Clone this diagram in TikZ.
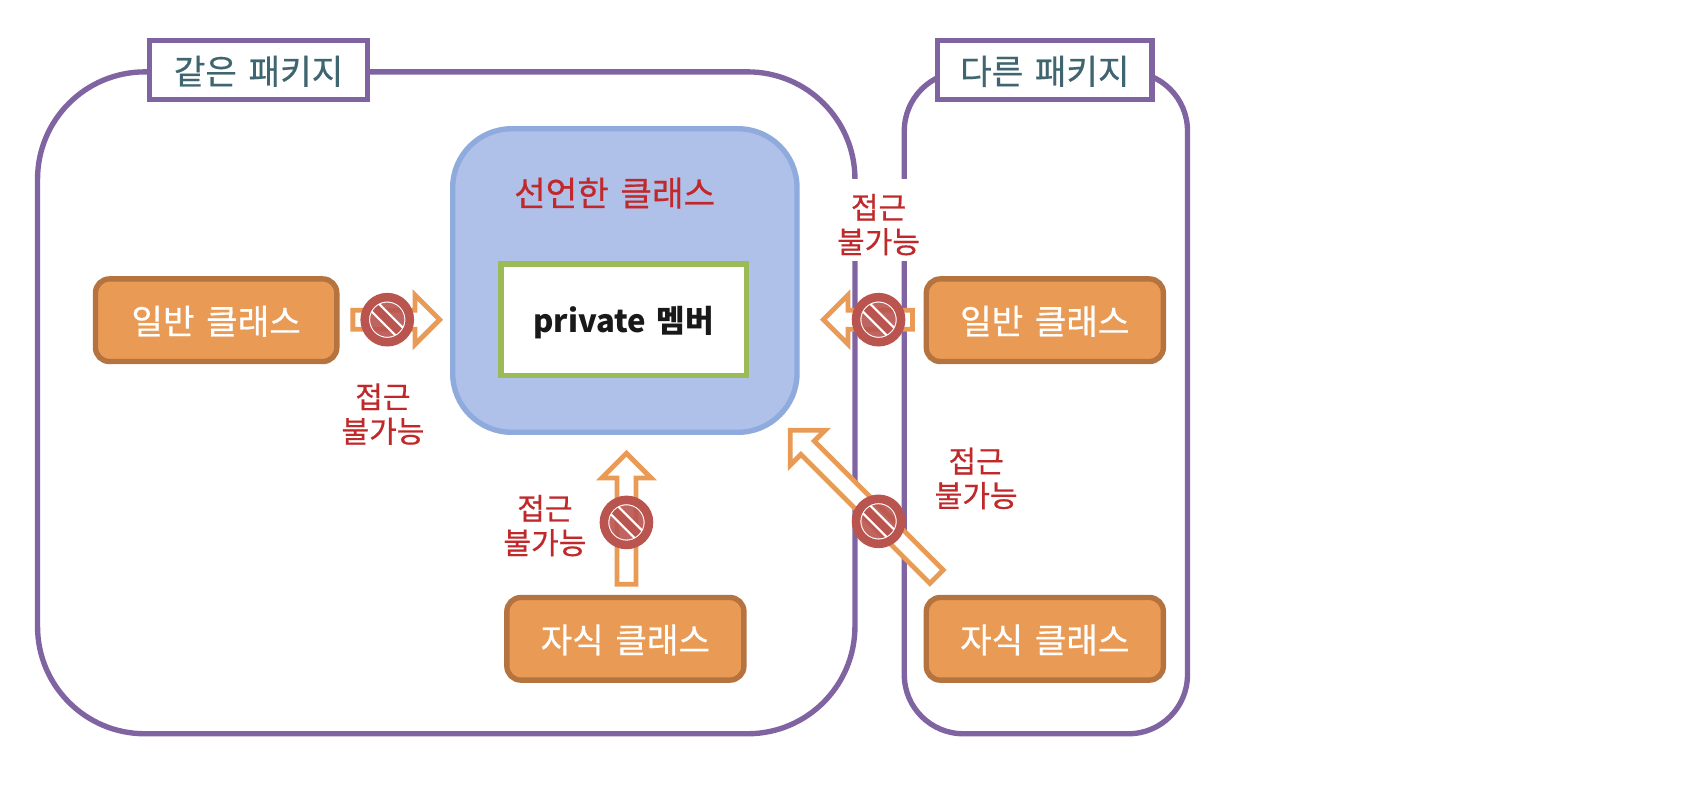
\documentclass[tikz,border=0pt]{standalone}
\usepackage{fontspec}
\setmainfont[WordSpace=1.5,FakeBold=0.5,BoldFeatures={FakeBold=0}]{Noto Sans CJK KR}
\usetikzlibrary{shapes.arrows}
\definecolor{pkgline}{HTML}{8064A2}
\definecolor{pkgtext}{HTML}{3F6670}
\definecolor{blockfill}{HTML}{AFC1E9}
\definecolor{blockline}{HTML}{8FAADC}
\definecolor{memberline}{HTML}{9BBB59}
\definecolor{classfill}{HTML}{E99A55}
\definecolor{classline}{HTML}{B57340}
\definecolor{denytext}{HTML}{C0282A}
\definecolor{denyfill}{HTML}{B9544F}
\tikzset{
    pkgbox/.style={draw=pkgline,line width=5pt,fill=white},
    pkglabel/.style={draw=pkgline,line width=5pt,fill=white,text=pkgtext,minimum height=55pt,text height=26pt,text depth=0pt,font=\fontsize{32}{36}\selectfont},
    classbox/.style={draw=classline,fill=classfill,line width=5pt,rounded corners=13pt,minimum height=77pt,text height=26pt,text depth=0pt,text=white,font=\fontsize{32}{36}\selectfont},
    blockarrow/.style={draw=classfill,fill=white,line width=4.5pt,single arrow,single arrow tip angle=90,single arrow head extend=3.6pt,minimum width=46pt,inner sep=0pt},
    denylabel/.style={text=denytext,align=center,font=\fontsize{28}{32}\selectfont},
    nosign/.style={circle,draw=denyfill,line width=8pt,fill=denyfill,fill opacity=.9,minimum size=42pt,inner sep=0pt,
        path picture={
            \begin{scope}[shift={(path picture bounding box.center)}]
            \draw[denyfill,line width=10pt] (-11,-11) -- (11,11);
            \draw[white,line width=2pt] (0,0) circle (17pt);
            \draw[white,line width=2pt] (-8,-15) -- (15,8);
            \draw[white,line width=2pt] (-15,-8) -- (8,15);
            \end{scope}
        }},
}
\begin{document}
\begin{tikzpicture}[x=1pt,y=-1pt]
\useasboundingbox (0,0) rectangle (1568,740);
% packages
\node[pkgbox,rounded corners=100pt,minimum width=762pt,minimum height=617pt] (samepkg) at (416,375.5) {};
\node[pkgbox,rounded corners=55pt,minimum width=264pt,minimum height=617pt] (otherpkg) at (975,375.5) {};
\node[pkglabel,minimum width=203pt] (samelabel) at (241,65.5) {같은 패키지};
\node[pkglabel,minimum width=200pt] (otherlabel) at (974,65.5) {다른 패키지};
% declaring class
\node[draw=blockline,fill=blockfill,line width=5pt,rounded corners=55pt,minimum width=321pt,minimum height=283pt] (declared) at (582.5,261.5) {};
\node[text=denytext,font=\fontsize{32}{36}\selectfont] (declaredname) at (573,180) {선언한 클래스};
\node[draw=memberline,fill=white,line width=5pt,minimum width=229pt,minimum height=104pt,text height=24pt,text depth=0pt,font=\fontsize{29}{34}\selectfont\bfseries,text=black!90] (member) at (581.5,298) {private 멤버};
% classes
\node[classbox,minimum width=225pt] (samenormal) at (201.5,298.5) {일반 클래스};
\node[classbox,minimum width=221pt] (samechild) at (583,595.5) {자식 클래스};
\node[classbox,minimum width=221pt] (othernormal) at (974,298.5) {일반 클래스};
\node[classbox,minimum width=221pt] (otherchild) at (974,595.5) {자식 클래스};
% denied arrows
\node[blockarrow,minimum height=81pt] (arrowa) at (365,298) {};
\node[blockarrow,minimum height=83pt,shape border rotate=180] (arrowb) at (813.5,298) {};
\node[blockarrow,minimum height=122pt,shape border rotate=90] (arrowc) at (584,488) {};
\node[blockarrow,minimum height=193pt,rotate=135] (arrowd) at (808,472.5) {};
\node[nosign] (denya) at (361,298) {};
\node[nosign] (denyb) at (819,298) {};
\node[nosign] (denyc) at (584,487) {};
\node[nosign] (denyd) at (819,486) {};
% labels
\node[denylabel] (labela) at (357,386) {접근\\불가능};
\node[denylabel] (labelb) at (508,490) {접근\\불가능};
\node[denylabel,fill=white,inner sep=2pt,minimum width=82pt,minimum height=76pt] (labelc) at (819,205) {\rule{0pt}{32pt}접근\\불가능};
\node[denylabel] (labeld) at (910,446) {접근\\불가능};
\end{tikzpicture}
\end{document}
